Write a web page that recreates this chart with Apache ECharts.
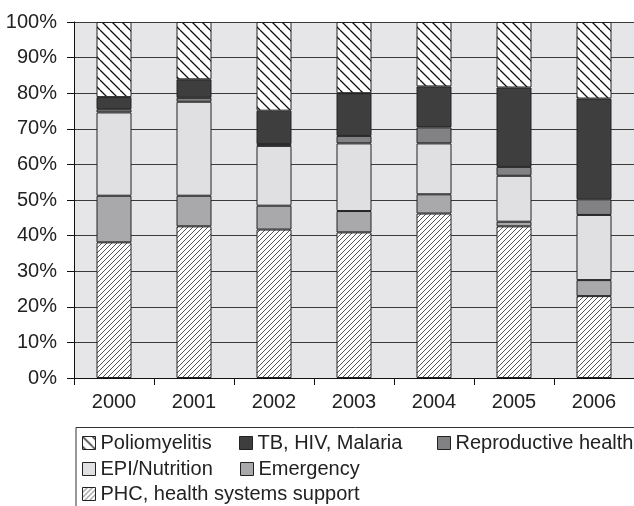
<!DOCTYPE html>
<html>
<head>
<meta charset="utf-8">
<script src="https://cdn.jsdelivr.net/npm/echarts@6/dist/echarts.min.js"></script>
<style>
  html, body { margin: 0; padding: 0; background: #ffffff; }
  #chart { width: 634px; height: 506px; }
</style>
</head>
<body>
<div id="chart"></div>
<script>
// ---- Data (percent of total, per year) ----
const years = ['2000', '2001', '2002', '2003', '2004', '2005', '2006'];
const phc          = [38.1, 42.6, 41.7, 40.9, 46.2, 42.6, 23.0];
const emergency    = [13.1,  8.6,  6.7,  6.0,  5.4,  1.3,  4.5];
const epiNutrition = [23.4, 26.4, 16.8, 19.0, 14.3, 12.9, 18.3];
const reproductive = [ 0.9,  1.1,  0.5,  2.1,  4.5,  2.5,  4.4];
const tbHivMalaria = [ 3.4,  5.2,  9.4, 12.0, 11.5, 22.3, 28.3];
const polio        = [21.1, 16.1, 24.9, 20.0, 18.1, 18.4, 21.5];
const seriesNames = ['Poliomyelitis', 'TB, HIV, Malaria', 'Reproductive health',
                     'EPI/Nutrition', 'Emergency', 'PHC, health systems support'];

// ---- Hatch patterns ----
function hatch(size, color, lw, forward) {
  const c = document.createElement('canvas');
  c.width = size; c.height = size;
  const g = c.getContext('2d');
  g.fillStyle = '#ffffff';
  g.fillRect(0, 0, size, size);
  g.strokeStyle = color;
  g.lineWidth = lw;
  g.beginPath();
  for (let k = -1; k <= 1; k++) {
    if (forward) {
      g.moveTo(k * size, size); g.lineTo(k * size + size, 0);
    } else {
      g.moveTo(k * size, 0); g.lineTo(k * size + size, size);
    }
  }
  g.stroke();
  return { image: c, repeat: 'repeat' };
}
const polioFill = hatch(10, '#111111', 1.3, false);
const phcFill = hatch(5, '#555555', 1, true);

const FONT = 'Liberation Sans, Arial, Helvetica, sans-serif';
const chart = echarts.init(document.getElementById('chart'), null, { renderer: 'canvas' });

function bar(name, data, color) {
  return {
    name: name, type: 'bar', stack: 'total', data: data, barWidth: 35,
    itemStyle: { color: color, borderColor: '#222222', borderWidth: 1 },
    emphasis: { disabled: true }
  };
}

function legendAt(name, left, top) {
  return {
    data: [name], left: left, top: top, padding: 0, itemGap: 0,
    itemWidth: 13, itemHeight: 13, itemTextGap: 5,
    selectedMode: false, icon: 'rect',
    itemStyle: { borderColor: '#222222', borderWidth: 1 },
    textStyle: { fontFamily: FONT, fontSize: 20, color: '#222222', lineHeight: 20 }
  };
}

chart.setOption({
  animation: false,
  grid: {
    left: 74, top: 22, right: -7, bottom: 128,
    show: true, backgroundColor: '#e6e6e8', borderWidth: 0
  },
  xAxis: {
    type: 'category', data: years,
    axisLine: { lineStyle: { color: '#111111', width: 1 } },
    axisTick: { show: true, length: 7, lineStyle: { color: '#111111' } },
    axisLabel: { fontFamily: FONT, fontSize: 20, color: '#222222', margin: 14 }
  },
  yAxis: {
    type: 'value', min: 0, max: 100, interval: 10,
    axisLine: { show: true, lineStyle: { color: '#111111', width: 1 } },
    axisTick: { show: true, length: 7, lineStyle: { color: '#111111' } },
    axisLabel: { formatter: '{value}%', fontFamily: FONT, fontSize: 20, color: '#222222', margin: 17 },
    splitLine: { show: true, lineStyle: { color: '#3a3a3a', width: 1 } }
  },
  legend: [
    legendAt('Poliomyelitis', 82, 433),
    legendAt('TB, HIV, Malaria', 239, 433),
    legendAt('Reproductive health', 437, 433),
    legendAt('EPI/Nutrition', 82, 459),
    legendAt('Emergency', 240, 459),
    legendAt('PHC, health systems support', 82, 484)
  ],
  graphic: [{
    type: 'rect', left: 73.5, top: 425, silent: true,
    shape: { width: 600, height: 120 },
    style: { fill: 'none', stroke: '#333333', lineWidth: 1 }
  }],
  series: [
    bar('PHC, health systems support', phc, phcFill),
    bar('Emergency', emergency, '#a9a9ab'),
    bar('EPI/Nutrition', epiNutrition, '#e0e0e2'),
    bar('Reproductive health', reproductive, '#828284'),
    bar('TB, HIV, Malaria', tbHivMalaria, '#3e3e3e'),
    bar('Poliomyelitis', polio, polioFill)
  ]
});
</script>
</body>
</html>
